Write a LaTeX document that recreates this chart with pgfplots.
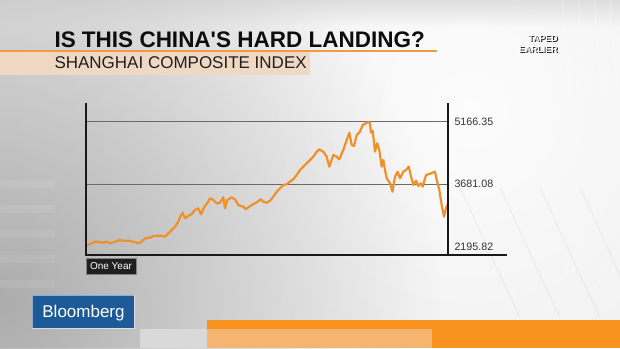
\documentclass[border=0pt]{standalone}
\usepackage{pgfplots}
\pgfplotsset{compat=1.18}
\usepackage{fontspec}
\setmainfont{Liberation Sans}
\usetikzlibrary{fadings}
\tikzfading[name=radfade, inner color=transparent!0, outer color=transparent!100]
\tikzfading[name=fadedown, top color=transparent!0, bottom color=transparent!100]
\definecolor{bgbase}{HTML}{E5E5E5}
\definecolor{lineor}{HTML}{F0902A}
\definecolor{gridc}{HTML}{6A6A6A}
\definecolor{titleor}{HTML}{EE9B45}
\definecolor{band}{HTML}{EFD9C5}
\definecolor{bbblue}{HTML}{1D5A98}
\definecolor{baror}{HTML}{F7931E}
\definecolor{barlt}{HTML}{F5B470}
\begin{document}
\begin{tikzpicture}[x=1pt,y=1pt]
\useasboundingbox (0,0) rectangle (620,348);
\begin{scope}
\clip (0,0) rectangle (620,348);
\fill[bgbase] (0,0) rectangle (620,348);
\fill[white, path fading=radfade, fill opacity=0.9] (-130,-362) rectangle (1070,838);
\fill[black!45, path fading=radfade, fill opacity=0.65] (-440,-392) rectangle (440,488);
\fill[black!22, path fading=fadedown, fill opacity=0.5] (0,322) rectangle (620,348);
% faint architecture lines on the right
\foreach \a in {562,578,594,610} {\draw[white, opacity=0.35, line width=1pt] (\a,348) -- (\a+8,250);}
\foreach \a in {500,540,580,620} {\draw[white, opacity=0.3, line width=1pt] (\a,30) -- (\a+90,200);}
\foreach \a in {520,560,600,640} {\draw[black!30, opacity=0.18, line width=0.8pt] (\a,30) -- (\a-60,160);}
% faint windows on the left
\foreach \yy in {60,85,110,135,160} {\fill[white, opacity=0.08] (0,\yy) rectangle (55,\yy+8);}
\end{scope}
% subtitle band and orange rule
\fill[band] (0,273) rectangle (310,296);
\draw[titleor, line width=2pt] (0,297) -- (437,297);
\node[anchor=base west, inner sep=0, font=\bfseries\fontsize{22.5}{26}\selectfont, text=black!95] at (54.3,300.7) {IS THIS CHINA\textquotesingle S HARD LANDING?};
\node[anchor=base west, inner sep=0, font=\fontsize{17}{20}\selectfont, text=black!88] at (54.3,279.3) {SHANGHAI COMPOSITE INDEX};
% taped earlier
\node[anchor=base east, inner sep=0, font=\bfseries\fontsize{8.8}{9}\selectfont, text=black!85] at (558.8,305.8) {TAPED};
\node[anchor=base east, inner sep=0, font=\bfseries\fontsize{8.8}{9}\selectfont, text=white] at (557.7,306.8) {TAPED};
\node[anchor=base east, inner sep=0, font=\bfseries\fontsize{8.8}{9}\selectfont, text=black!85] at (558.8,294.8) {EARLIER};
\node[anchor=base east, inner sep=0, font=\bfseries\fontsize{8.8}{9}\selectfont, text=white] at (557.7,295.8) {EARLIER};
% Bloomberg logo
\fill[bbblue] (32.3,19.7) rectangle (134,53);
\draw[white, opacity=0.5, line width=0.6pt] (32.3,19.7) rectangle (134,53);
\node[anchor=base, inner sep=0, font=\fontsize{17}{18}\selectfont, text=white] at (83.5,30.7) {Bloomberg};
% bottom bar
\fill[black!15] (140,0) rectangle (207,19);
\fill[baror] (207,0) rectangle (620,28);
\fill[barlt] (207,0) rectangle (432,19);
\begin{axis}[
  at={(86pt,93pt)}, anchor=south west,
  width=362pt, height=152pt, scale only axis,
  xmin=0, xmax=362, ymin=2003.5, ymax=5610,
  axis line style={draw=none},
  xtick=\empty,
  ytick={3681.08,5166.35}, yticklabels={3681.08,5166.35},
  extra y ticks={2195.82}, extra y tick labels={2195.82},
  extra y tick style={grid=none},
  ymajorgrids, major grid style={gridc, line width=1.1pt},
  ytick pos=right, yticklabel pos=right,
  major tick length=0pt,
  yticklabel style={anchor=west, font=\fontsize{10.7}{12}\selectfont, text=black!80, xshift=3pt},
  clip=false,
]
\addplot[lineor, line width=2.2pt, line join=round, no markers] table {
x y
0.5 2217
4 2264
9 2319
14 2312
17 2295
20.7 2319
24 2281
29 2319
34 2359
37.3 2343
42.3 2343
47.3 2319
52.3 2281
55.7 2319
59 2400
64 2414
67.3 2454
70.7 2461
75.7 2461
79 2438
84 2556
89 2675
92.3 2794
94 2898
96.7 3007
99 2874
102.3 2929
105.7 2976
109 3071
112.3 3112
115 2969
118.3 3149
121.3 3230
124 3349
127.3 3308
130.7 3230
134 3244
137.3 3372
139 3112
141.3 3308
145.7 3372
149 3325
152.3 3190
154.7 3166
157.3 3149
160 3088
162.3 3135
165.7 3190
170.7 3254
174.7 3325
177.3 3268
180.7 3244
184 3292
187.3 3386
190.7 3505
194 3586
197.3 3664
200.7 3681
204 3743
207.3 3800
210.7 3902
214 4020
217.3 4099
220.7 4179
224 4258
227.3 4336
230.7 4455
233.3 4512
237.3 4455
240.7 4336
243.3 4099
247.3 4376
250.7 4336
253.3 4274
257.3 4495
260.7 4732
263.3 4905
265.7 4613
268 4590
270.7 4851
274 4929
276.7 5088
280 5128
282 5166
284 5128
285 4905
286.7 4953
289 4455
291.3 4654
293.3 4495
295.7 4099
297.3 4258
299 4020
300.7 3823
304 3705
306.5 3505
309 3861
311.7 3980
314 3823
317.3 3980
320 4020
322.7 4099
324.7 3902
327.3 3664
330 3766
332.3 3641
334.7 3705
336.7 3624
340 3902
343.3 3925
346.7 3956
349 3980
350.7 3783
353.3 3546
355.7 3190
358 2912
360 3112
361.7 3213
};
\draw[black!90, line width=1.5pt] (rel axis cs:0,1) -- (rel axis cs:0,0) -- (rel axis cs:1.163,0);
\draw[black!90, line width=1.5pt] (rel axis cs:1,0) -- (rel axis cs:1,1);
\end{axis}
% One Year tag
\node[fill=black!88, draw=black!50, line width=0.5pt, text=white, font=\fontsize{10}{11}\selectfont, minimum width=50pt, minimum height=16pt, inner sep=0pt] at (111,81.7) {One Year};
\end{tikzpicture}
\end{document}
